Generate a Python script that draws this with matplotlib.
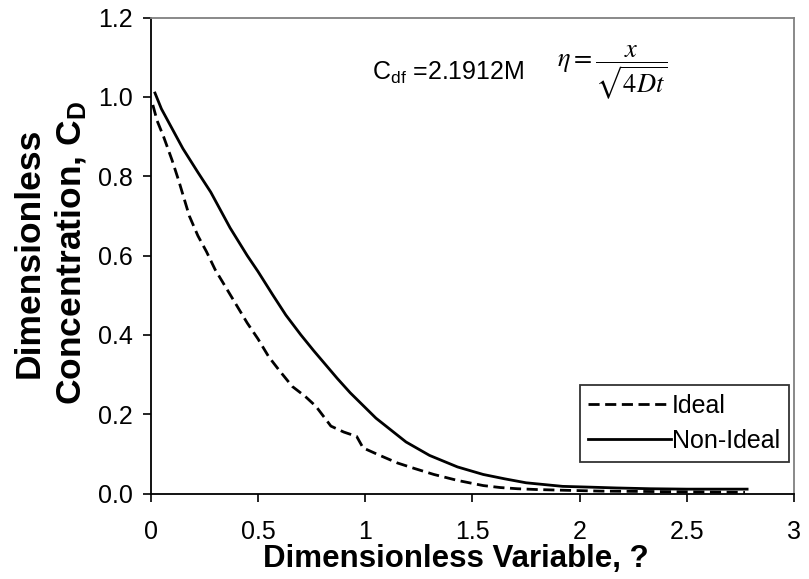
import matplotlib
matplotlib.use("Agg")
import matplotlib.pyplot as plt

# ---- data ----
eta_nonideal = [0.02, 0.05, 0.10, 0.15, 0.22, 0.28, 0.37, 0.45, 0.50, 0.57, 0.63, 0.70,
                0.76, 0.87, 0.93, 1.05, 1.19, 1.30, 1.43, 1.55, 1.65, 1.75, 1.92, 2.05,
                2.17, 2.33, 2.50, 2.78]
cd_nonideal = [1.01, 0.97, 0.92, 0.87, 0.81, 0.76, 0.67, 0.60, 0.56, 0.50, 0.45, 0.40,
               0.36, 0.29, 0.254, 0.19, 0.13, 0.096, 0.067, 0.048, 0.037, 0.027, 0.018, 0.016,
               0.014, 0.012, 0.011, 0.011]

eta_ideal = [0.01, 0.03, 0.06, 0.10, 0.13, 0.18, 0.22, 0.26, 0.30, 0.35, 0.40, 0.45,
             0.50, 0.55, 0.60, 0.66, 0.72, 0.77, 0.84, 0.90, 0.96, 0.99, 1.06, 1.15,
             1.23, 1.32, 1.43, 1.55, 1.63, 1.71, 1.80, 1.94, 2.10, 2.33, 2.55, 2.77]
cd_ideal = [0.98, 0.94, 0.90, 0.84, 0.79, 0.70, 0.65, 0.61, 0.565, 0.52, 0.475, 0.43,
            0.39, 0.345, 0.31, 0.27, 0.245, 0.22, 0.17, 0.155, 0.144, 0.115, 0.098, 0.077,
            0.063, 0.048, 0.033, 0.020, 0.015, 0.012, 0.010, 0.008, 0.006, 0.005, 0.004, 0.003]

x_ticks = [0, 0.5, 1, 1.5, 2, 2.5, 3]
x_tick_labels = ["0", "0.5", "1", "1.5", "2", "2.5", "3"]
y_ticks = [0.0, 0.2, 0.4, 0.6, 0.8, 1.0, 1.2]
y_tick_labels = ["0.0", "0.2", "0.4", "0.6", "0.8", "1.0", "1.2"]

series_labels = ["Ideal", "Non-Ideal"]
annot_text = r"C$_{\mathrm{df}}$ =2.1912M"
eq_text = r"$\eta = \dfrac{x}{\sqrt{4Dt}}$"
xlabel_text = "Dimensionless Variable, ?"
ylabel_text = "Dimensionless\nConcentration, C$_{\\mathbf{D}}$"

# ---- style ----
plt.rcParams["font.family"] = ["Liberation Sans", "DejaVu Sans"]
plt.rcParams["mathtext.fontset"] = "custom"
plt.rcParams["mathtext.rm"] = "Liberation Sans"
plt.rcParams["mathtext.it"] = "Liberation Sans:italic"
plt.rcParams["mathtext.bf"] = "Liberation Sans:bold"

W, H = 809, 579
fig = plt.figure(figsize=(W / 100, H / 100), dpi=100)
L, R, B, T = 150.7, 794.3, 493.5, 17.7
ax = fig.add_axes([L / W, 1 - B / H, (R - L) / W, (B - T) / H])

ax.plot(eta_ideal, cd_ideal, color="black", lw=2.0, ls=(0, (4, 2)), label=series_labels[0])
ax.plot(eta_nonideal, cd_nonideal, color="black", lw=2.0, ls="-", label=series_labels[1])

ax.set_xlim(0, 3)
ax.set_ylim(0, 1.2)
ax.set_xticks(x_ticks)
ax.set_xticklabels(x_tick_labels)
ax.set_yticks(y_ticks)
ax.set_yticklabels(y_tick_labels)
ax.tick_params(axis="x", direction="out", length=6, width=1.2, labelsize=18, pad=13)
ax.tick_params(axis="y", direction="out", length=6, width=1.2, labelsize=18, pad=7)

for s in ("left", "bottom"):
    ax.spines[s].set_color("black")
    ax.spines[s].set_linewidth(1.3)
for s in ("top", "right"):
    ax.spines[s].set_color("#808080")
    ax.spines[s].set_linewidth(1.3)

ax.set_xlabel(xlabel_text, fontsize=22.5, fontweight="bold")
ax.xaxis.label.set_va("center")
ax.xaxis.set_label_coords(0.4744, -0.137)

ax.set_ylabel(ylabel_text, fontsize=25.5, fontweight="bold", linespacing=1.3)
ax.yaxis.label.set_va("center")
ax.yaxis.label.set_ha("center")
ax.yaxis.set_label_coords(-0.155, 0.505)

ax.text(1.03, 1.06, annot_text, fontsize=18, ha="left", va="center")
ax.text(1.895, 1.06, eq_text, fontsize=19, ha="left", va="center", math_fontfamily="stix")

leg = ax.legend(loc="lower right", bbox_to_anchor=(0.9918, 0.0668), borderaxespad=0,
                fontsize=18, frameon=True, fancybox=False, edgecolor="black",
                handlelength=3.3, handletextpad=0.05, borderpad=0.35, labelspacing=0.45)
leg.get_frame().set_linewidth(1.3)

fig.savefig("out.png", dpi=100)
